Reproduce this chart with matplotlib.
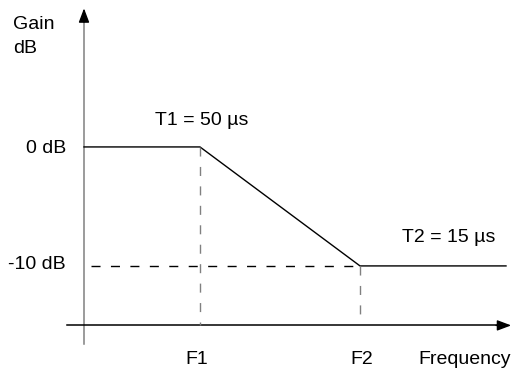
import matplotlib.pyplot as plt

plt.rcParams['font.family'] = ['Liberation Sans', 'DejaVu Sans']

# breakpoints of the gain curve (schematic frequency units) and gain levels (dB)
freq = [0.0, 2.9, 6.9, 10.55]
gain = [0, 0, -10, -10]
freq_labels = ['F1', 'F2']
gain_labels = ['0 dB', '-10 dB']
tau_labels = ['T1 = 50 µs', 'T2 = 15 µs']

fig = plt.figure(figsize=(5.12, 3.73), dpi=100)
ax = fig.add_axes([0, 0, 1, 1])
ax.set_xlim(-2.1, 10.7)
ax.set_ylim(-19.0, 12.35)
ax.axis('off')

fs = 14
y_axis = -15.0

# axes
ax.plot([0, 0], [-16.6, 11.0], color='#808080', lw=1.1)
ax.annotate('', xy=(0, 11.65), xytext=(0, 10.5),
            arrowprops=dict(arrowstyle='-|>,head_length=0.85,head_width=0.32',
                            color='black', lw=1, shrinkA=0, shrinkB=0))
ax.plot([-0.425, 10.4], [y_axis, y_axis], color='black', lw=1.1)
ax.annotate('', xy=(10.68, y_axis), xytext=(10.3, y_axis),
            arrowprops=dict(arrowstyle='-|>,head_length=0.85,head_width=0.32',
                            color='black', lw=1, shrinkA=0, shrinkB=0))

# gain curve
ax.plot(freq, gain, color='black', lw=1)

# guide lines
dash = (6.5, 7.5)
ax.plot([freq[1], freq[1]], [gain[1], y_axis], color='#808080', lw=1, dashes=dash)
ax.plot([freq[2], freq[2]], [gain[2], y_axis + 0.4], color='#808080', lw=1, dashes=dash)
ax.plot([0.18, freq[2]], [gain[2], gain[2]], color='black', lw=1, dashes=dash)

# texts
ax.text(-1.775, 10.25, 'Gain', fontsize=fs, ha='left', va='center')
ax.text(-1.775, 8.3, 'dB', fontsize=fs, ha='left', va='center')
ax.text(-0.45, gain[0] - 0.17, gain_labels[0], fontsize=fs, ha='right', va='center')
ax.text(-0.45, gain[2] + 0.08, gain_labels[1], fontsize=fs, ha='right', va='center')
ax.text(2.93, 2.2, tau_labels[0], fontsize=fs, ha='center', va='center')
ax.text(7.95, -7.65, tau_labels[1], fontsize=fs, ha='left', va='center')
ax.text(freq[1] - 0.07, -17.9, freq_labels[0], fontsize=fs, ha='center', va='center')
ax.text(freq[2] + 0.05, -17.9, freq_labels[1], fontsize=fs, ha='center', va='center')
ax.text(8.35, -17.9, 'Frequency', fontsize=fs, ha='left', va='center')

fig.savefig('out.png', dpi=100)
